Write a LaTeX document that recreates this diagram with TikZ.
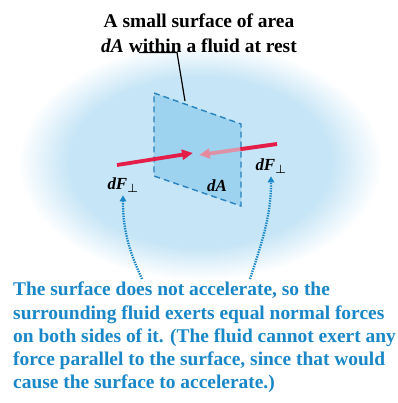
\documentclass[tikz,border=0pt]{standalone}
\usepackage{fontspec}
\setmainfont{Liberation Serif}
\usetikzlibrary{arrows.meta,calc}
\definecolor{cloudc}{RGB}{198,229,246}
\definecolor{surff}{RGB}{150,208,238}
\definecolor{surfd}{RGB}{40,130,190}
\definecolor{redf}{RGB}{228,30,72}
\definecolor{pinkf}{RGB}{238,130,150}
\definecolor{capblue}{RGB}{25,135,200}
\pgfdeclareradialshading{cloudsh}{\pgfpoint{0bp}{0bp}}{color(0bp)=(cloudc); color(18bp)=(cloudc); color(25bp)=(white); color(50bp)=(white)}
\begin{document}
\begin{tikzpicture}[x=1bp,y=-1bp,
  lbl/.style={font=\fontsize{17}{20}\selectfont\bfseries, inner sep=0pt},
  force/.style={redf, line width=3.8bp, -{Triangle[length=11bp,width=10bp]}},
  dotarrow/.style={capblue, line width=2.3bp, dash pattern=on 1.4bp off 1.1bp, -{Triangle[length=6bp,width=6.5bp]}, shorten >=3bp},
  surfline/.style={surfd, line width=1.4bp, dash pattern=on 6bp off 4bp}]
\useasboundingbox (0,0) rectangle (398,403);
\fill[white] (0,0) rectangle (398,403);
% fluid cloud
\shade[shading=cloudsh] (200,162) ellipse [x radius=182, y radius=118];
% title
\node[font=\fontsize{19.5}{25}\selectfont\bfseries, align=center, inner sep=0pt] (title) at (199,33)
  {A small surface of area\\ \textit{dA} within a fluid at rest};
% surface corners
\coordinate (tl) at (154,93);
\coordinate (tr) at (241,124);
\coordinate (br) at (241,206);
\coordinate (bl) at (154,176);
% surface
\fill[surff, opacity=0.85] (tl) -- (tr) -- (br) -- (bl) -- cycle;
\draw[surfline] (tl) -- (tr) -- (br) -- (bl) -- cycle;
% right force (seen through surface)
\coordinate (rs) at (277,144);
\coordinate (rt) at (199,155);
\draw[force, pinkf, opacity=0.8] (rs) -- (rt);
\draw[redf, line width=3.8bp] (rs) -- ($(rs)!0.47!(rt)$);
% left force (front)
\coordinate (ls) at (117,165);
\coordinate (lt) at (193,153);
\draw[force] (ls) -- (lt);
% leader line
\coordinate (u1) at (139,52.5);
\coordinate (u2) at (177,52.5);
\draw[line width=1.2bp] (u1) -- (u2) -- (185,101);
% labels
\node[lbl] (dFl) at (123,185) {\textit{dF}{\boldmath$_{\perp}$}};
\node[lbl] (dFr) at (271,166) {\textit{dF}{\boldmath$_{\perp}$}};
\node[lbl] (dA) at (217,186) {\textit{dA}};
% caption
\node[font=\fontsize{19.5}{23.3}\selectfont\bfseries, text=capblue, align=left, anchor=north west, inner sep=0pt] (cap) at (13,282)
  {The surface does not accelerate, so the\\
   surrounding fluid exerts equal normal forces\\
   on both sides of it. (The fluid cannot exert any\\
   force parallel to the surface, since that would\\
   cause the surface to accelerate.)};
\coordinate (c1) at (142,279);
\coordinate (c2) at (250,279);
\draw[dotarrow] (c1) to[out=115,in=-90] (dFl.south);
\draw[dotarrow] (c2) to[out=72,in=-90] (dFr.south);
\end{tikzpicture}
\end{document}
